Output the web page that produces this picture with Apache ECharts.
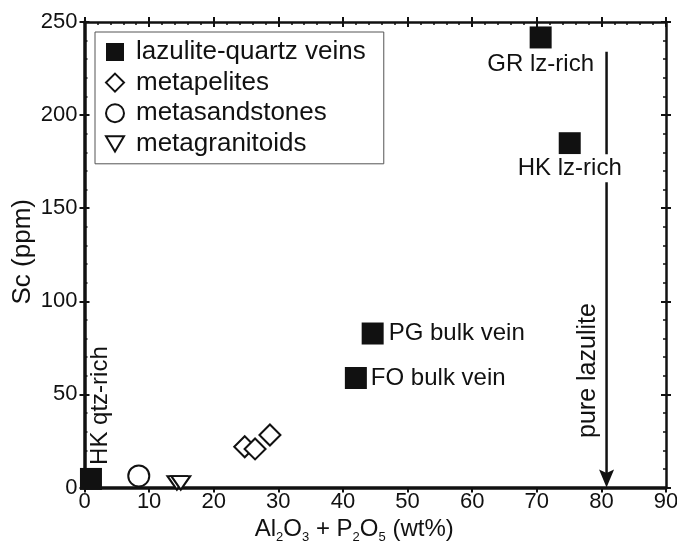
<!DOCTYPE html>
<html>
<head>
<meta charset="utf-8">
<script src="https://cdn.jsdelivr.net/npm/echarts@6/dist/echarts.min.js"></script>
<style>
html,body{margin:0;padding:0;background:#fff;}
#chart{width:677px;height:543px;}
</style>
</head>
<body>
<div id="chart"></div>
<script>
// ---------- data ----------
const seriesNames = ['lazulite-quartz veins', 'metapelites', 'metasandstones', 'metagranitoids'];

const veinNames = ['HK qtz-rich', 'FO bulk vein', 'PG bulk vein', 'HK lz-rich', 'GR lz-rich'];
const veinX = [1.0, 42.0, 44.6, 75.1, 70.6];
const veinY = [4.6, 58.8, 82.7, 184.9, 241.7];

const pelitesX = [24.8, 26.4, 28.7];
const pelitesY = [21.9, 20.7, 28.2];

const sandstonesX = [8.4];
const sandstonesY = [6.2];

const granitoidsX = [14.3, 14.9];
const granitoidsY = [2.5, 2.5];

const xTicks = {min: 0, max: 90, interval: 10};
const yTicks = {min: 0, max: 250, interval: 50};

// pure-lazulite arrow (data units)
const arrowX = 80.8;
const arrowTopY = 234;
const arrowTipY = 0;
const arrowLabel = 'pure lazulite';
const arrowLabelPos = [77.9, 62.8];

// ---------- styles ----------
const INK = '#111';
const FONT = '"Liberation Sans", Arial, Helvetica, sans-serif';

const veinLabelStyles = {
  'HK qtz-rich': {position: [20, -3], rotate: 90, align: 'left', verticalAlign: 'middle'},
  'FO bulk vein': {position: 'right', distance: 4},
  'PG bulk vein': {position: 'right', distance: 5},
  'HK lz-rich': {position: 'bottom', distance: 0, backgroundColor: '#fff', padding: [2, 2]},
  'GR lz-rich': {position: 'bottom', distance: 4}
};

const zip = (xs, ys) => xs.map((x, i) => [x, ys[i]]);

const downTriangle = 'path://M0,0L20,0L10,17Z';
const downArrow = 'path://M0,0L7.5,3.5L15,0L7.5,18Z';

const hollow = {color: '#fff', borderColor: INK, borderWidth: 2, opacity: 1};

const chart = echarts.init(document.getElementById('chart'), null, {renderer: 'canvas'});

const baseAxis = (extra) => Object.assign({
  type: 'value',
  splitLine: {show: false},
  axisLabel: {show: false},
  axisLine: {show: false, onZero: false, lineStyle: {color: INK}},
  axisTick: {show: true, lineStyle: {color: INK, width: 2}},
  minorTick: {show: false},
  minorSplitLine: {show: false}
}, extra);

const option = {
  animation: false,
  backgroundColor: '#fff',
  textStyle: {fontFamily: FONT, color: INK},
  grid: {left: 84.5, right: 11, top: 22, bottom: 55.5, containLabel: false, outerBoundsMode: 'none'},
  legend: {
    orient: 'vertical',
    left: 95,
    top: 32,
    padding: [7, 18, 7, 10],
    itemGap: 4.6,
    itemWidth: 18,
    itemHeight: 18,
    backgroundColor: '#fff',
    borderColor: '#555',
    borderWidth: 1,
    borderRadius: 0,
    selectedMode: false,
    textStyle: {fontFamily: FONT, fontSize: 26, lineHeight: 26, color: INK, padding: [0, 0, 0, 7]},
    data: [
      {name: seriesNames[0], icon: 'rect'},
      {name: seriesNames[1], icon: 'diamond'},
      {name: seriesNames[2], icon: 'circle'},
      {name: seriesNames[3], icon: downTriangle}
    ]
  },
  xAxis: [
    baseAxis(Object.assign({}, xTicks, {
      position: 'bottom',
      axisLine: {show: true, onZero: false, lineStyle: {color: INK, width: 3.5}},
      axisTick: {show: true, inside: false, length: 5, lineStyle: {color: INK, width: 2}},
      axisLabel: {show: true, fontFamily: FONT, fontSize: 22, color: INK, margin: 3},
      name: '{a|Al}{s|2}{a|O}{s|3}{a| + P}{s|2}{a|O}{s|5}{a| (wt%)}',
      nameLocation: 'middle',
      nameGap: 28,
      nameMoveOverlap: false,
      nameTextStyle: {
        padding: [0, 42, 0, 0],
        rich: {
          a: {fontFamily: FONT, fontSize: 24, lineHeight: 28, color: INK},
          s: {fontFamily: FONT, fontSize: 13, lineHeight: 12, color: INK, verticalAlign: 'bottom'}
        }
      }
    })),
    baseAxis(Object.assign({}, xTicks, {
      position: 'top',
      axisLine: {show: true, onZero: false, lineStyle: {color: INK, width: 2.5}},
      axisTick: {show: true, inside: false, length: 5, lineStyle: {color: INK, width: 2}}
    })),
    baseAxis(Object.assign({}, xTicks, {
      position: 'top',
      axisTick: {show: true, inside: true, length: 5, lineStyle: {color: INK, width: 2}},
      minorTick: {show: true, splitNumber: 5, length: 3, lineStyle: {color: INK, width: 1.5}}
    }))
  ],
  yAxis: [
    baseAxis(Object.assign({}, yTicks, {
      position: 'left',
      axisLine: {show: true, onZero: false, lineStyle: {color: INK, width: 3.5}},
      axisTick: {show: true, inside: false, length: 5, lineStyle: {color: INK, width: 2}},
      axisLabel: {show: true, fontFamily: FONT, fontSize: 22, color: INK, margin: 7},
      name: 'Sc (ppm)',
      nameLocation: 'middle',
      nameGap: 47,
      nameMoveOverlap: false,
      nameTextStyle: {fontFamily: FONT, fontSize: 26, lineHeight: 30, color: INK, padding: [0, 0, 0, 6]}
    })),
    baseAxis(Object.assign({}, yTicks, {
      position: 'left',
      axisTick: {show: true, inside: true, length: 5, lineStyle: {color: INK, width: 2}},
      minorTick: {show: true, splitNumber: 5, length: 3, lineStyle: {color: INK, width: 1.5}}
    })),
    baseAxis(Object.assign({}, yTicks, {
      position: 'right',
      axisLine: {show: true, onZero: false, lineStyle: {color: INK, width: 2.5}},
      axisTick: {show: true, inside: false, length: 5, lineStyle: {color: INK, width: 2}}
    })),
    baseAxis(Object.assign({}, yTicks, {
      position: 'right',
      axisTick: {show: true, inside: true, length: 5, lineStyle: {color: INK, width: 2}},
      minorTick: {show: true, splitNumber: 5, length: 3, lineStyle: {color: INK, width: 1.5}}
    }))
  ],
  series: [
    {
      name: 'arrowShaft',
      type: 'line',
      xAxisIndex: 0, yAxisIndex: 0,
      z: 1,
      silent: true,
      symbol: 'none',
      lineStyle: {color: INK, width: 2.5},
      data: [[arrowX, arrowTopY], [arrowX, arrowTipY + 3]]
    },
    {
      name: 'arrowHead',
      type: 'scatter',
      xAxisIndex: 0, yAxisIndex: 0,
      z: 2,
      silent: true,
      clip: false,
      symbol: downArrow,
      symbolSize: [15, 18],
      symbolOffset: [0, -9],
      itemStyle: {color: INK, opacity: 1},
      data: [[arrowX, arrowTipY]]
    },
    {
      name: 'arrowLabel',
      type: 'scatter',
      xAxisIndex: 0, yAxisIndex: 0,
      z: 2,
      silent: true,
      symbolSize: 1,
      itemStyle: {color: 'rgba(0,0,0,0)', opacity: 1},
      data: [{
        value: arrowLabelPos,
        label: {
          show: true, position: 'inside', rotate: 90,
          align: 'center', verticalAlign: 'middle', opacity: 1,
          formatter: arrowLabel, fontFamily: FONT, fontSize: 25, color: INK
        }
      }]
    },
    {
      name: seriesNames[0],
      type: 'scatter',
      xAxisIndex: 0, yAxisIndex: 0,
      z: 3,
      clip: true,
      symbol: 'rect',
      symbolSize: 22,
      itemStyle: {color: INK, opacity: 1},
      label: {show: true, fontFamily: FONT, fontSize: 24, color: INK, formatter: '{b}'},
      data: veinNames.map((n, i) => ({
        name: n,
        value: [veinX[i], veinY[i]],
        label: veinLabelStyles[n]
      }))
    },
    {
      name: seriesNames[1],
      type: 'scatter',
      xAxisIndex: 0, yAxisIndex: 0,
      z: 3,
      symbol: 'diamond',
      symbolSize: 21,
      itemStyle: hollow,
      data: zip(pelitesX, pelitesY)
    },
    {
      name: seriesNames[2],
      type: 'scatter',
      xAxisIndex: 0, yAxisIndex: 0,
      z: 3,
      symbol: 'circle',
      symbolSize: 21,
      itemStyle: hollow,
      data: zip(sandstonesX, sandstonesY)
    },
    {
      name: seriesNames[3],
      type: 'scatter',
      xAxisIndex: 0, yAxisIndex: 0,
      z: 3,
      symbol: downTriangle,
      symbolKeepAspect: true,
      symbolSize: [19, 16],
      itemStyle: hollow,
      data: zip(granitoidsX, granitoidsY)
    }
  ]
};

chart.setOption(option);
</script>
</body>
</html>
